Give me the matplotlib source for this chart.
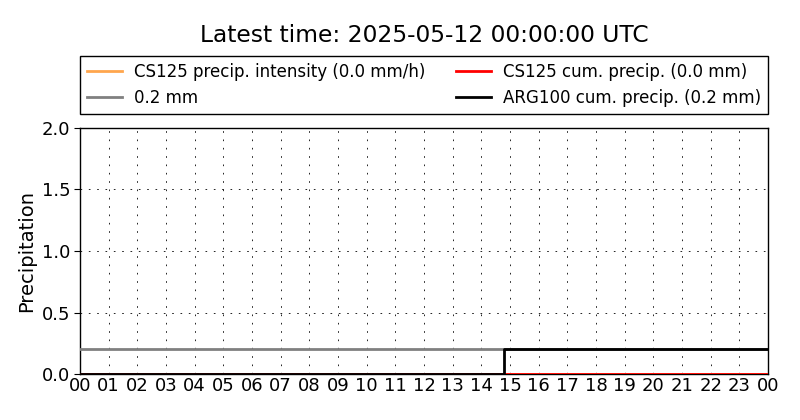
import matplotlib
matplotlib.use("Agg")
import matplotlib.pyplot as plt

# Data (hours since 2025-05-11 00:00 UTC)
hour_ticks = list(range(0, 25))
hour_labels = ["%02d" % (h % 24) for h in hour_ticks]

cs125_int_t = [0, 24]
cs125_int_v = [0.0, 0.0]

cs125_cum_t = [0, 24]
cs125_cum_v = [0.0, 0.0]

ref_t = [0, 24]
ref_v = [0.2, 0.2]

arg_t = [0, 14.78, 24]
arg_v = [0.0, 0.2, 0.2]

title = "Latest time: 2025-05-12 00:00:00 UTC"

fig = plt.figure(figsize=(8, 4.2), dpi=100)
ax = fig.add_axes([0.1, 1 - 374 / 420, 0.86, 246 / 420])

l1, = ax.plot(cs125_int_t, cs125_int_v, color="#ffa64d", lw=2, zorder=3, label="CS125 precip. intensity (0.0 mm/h)")
l3, = ax.plot(ref_t, ref_v, color="#808080", lw=2, zorder=3, label="0.2 mm")
l2, = ax.plot(cs125_cum_t, cs125_cum_v, color="red", lw=2, zorder=3, label="CS125 cum. precip. (0.0 mm)")
l4, = ax.plot(arg_t, arg_v, color="black", lw=2, zorder=3, drawstyle="steps-post", label="ARG100 cum. precip. (0.2 mm)")

ax.set_xlim(0, 24)
ax.set_ylim(0, 2.0)
ax.set_xticks(hour_ticks)
ax.set_xticklabels(hour_labels)
ax.set_yticks([0.0, 0.5, 1.0, 1.5, 2.0])
ax.set_yticklabels(["0.0", "0.5", "1.0", "1.5", "2.0"])
ax.tick_params(axis="x", length=0, labelsize=13, pad=2)
ax.tick_params(axis="y", length=4, direction="out", labelsize=13, pad=3)
ax.grid(True, color="black", linestyle=(0, (2, 8)), linewidth=0.6)
for s in ax.spines.values():
    s.set_linewidth(1.0)
ax.set_ylabel("Precipitation", fontsize=14, labelpad=4)

leg = ax.legend(handles=[l1, l3, l2, l4], ncol=2, loc="lower left",
                bbox_to_anchor=(0, 1 + 14 / 246, 1, 58 / 246), mode="expand",
                borderaxespad=0, fancybox=False, edgecolor="black", framealpha=1,
                fontsize=12, handlelength=2.1, handletextpad=0.75,
                columnspacing=1.0, borderpad=0.4)
leg.get_frame().set_linewidth(1.0)

fig.text(0.53, 1 - 35 / 420, title, ha="center", va="center", fontsize=16.8)

fig.savefig("out.png", dpi=100)
